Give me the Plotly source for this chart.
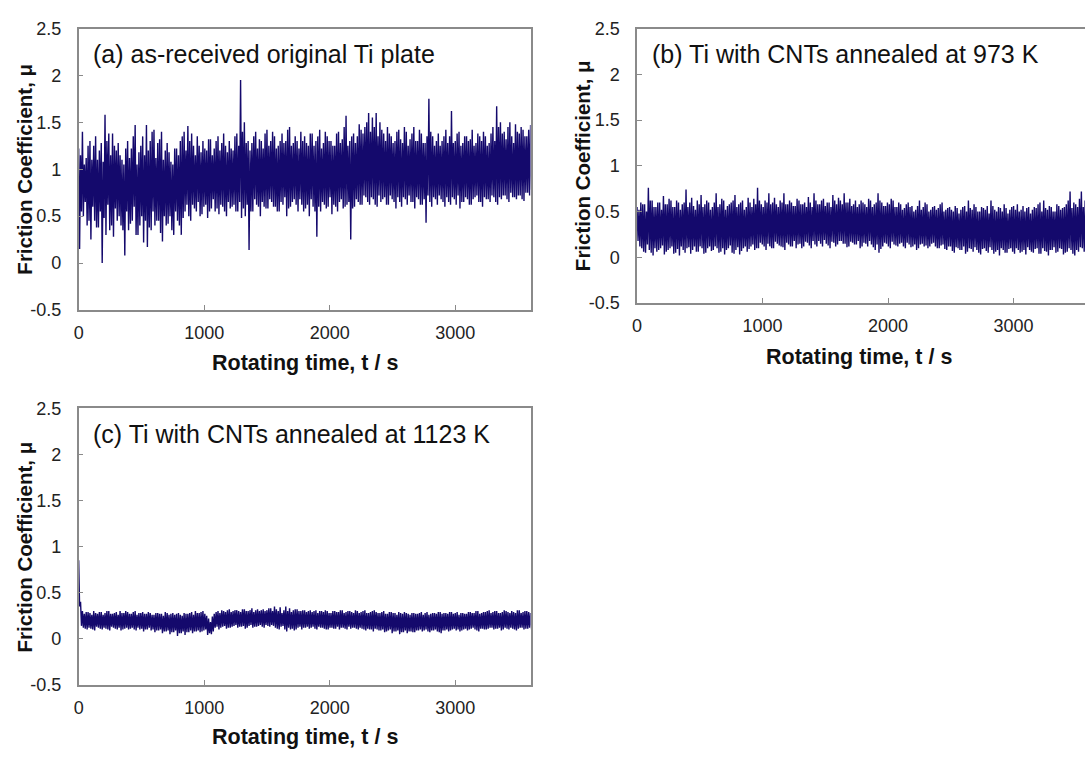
import plotly.graph_objects as go

# ---------------- data ----------------
# Each 30 s window of the record is described by four readings:
# an upper excursion (hi), a lower excursion (lo) and a second,
# smaller upper / lower pair (hi2, lo2) taken later in the window.
time_hi = list(range(0, 3601, 30))
time_lo = [t + 7.5 for t in time_hi]
time_hi2 = [t + 15 for t in time_hi]
time_lo2 = [t + 22.5 for t in time_hi]

# (a) as-received original Ti plate
a_hi = [1.22, 1.40, 1.12, 1.30, 1.25, 1.10, 1.28, 1.58, 1.38, 1.38,
        1.20, 1.15, 1.05, 1.30, 1.22, 1.47, 1.18, 1.35, 1.47, 1.30,
        1.42, 1.28, 1.40, 1.20, 1.18, 1.05, 1.22, 1.30, 1.40, 1.46,
        1.38, 1.15, 1.25, 1.30, 1.20, 1.32, 1.22, 1.35, 1.28, 1.25,
        1.30, 1.20, 1.38, 1.95, 1.50, 1.30, 1.28, 1.40, 1.32, 1.22,
        1.42, 1.30, 1.35, 1.25, 1.38, 1.30, 1.45, 1.28, 1.30, 1.40,
        1.35, 1.25, 1.38, 1.30, 1.42, 1.28, 1.35, 1.30, 1.25, 1.40,
        1.32, 1.57, 1.30, 1.38, 1.35, 1.42, 1.45, 1.60, 1.55, 1.60,
        1.50, 1.38, 1.45, 1.35, 1.30, 1.42, 1.28, 1.40, 1.32, 1.45,
        1.30, 1.38, 1.28, 1.75, 1.35, 1.30, 1.25, 1.35, 1.28, 1.62,
        1.30, 1.40, 1.28, 1.35, 1.32, 1.25, 1.38, 1.30, 1.35, 1.28,
        1.45, 1.67, 1.50, 1.40, 1.45, 1.35, 1.48, 1.38, 1.42, 1.35,
        1.47]
a_lo = [0.15, 0.50, 0.40, 0.25, 0.45, 0.38, 0.00, 0.30, 0.35, 0.28,
        0.45, 0.40, 0.08, 0.35, 0.45, 0.30, 0.40, 0.22, 0.17, 0.35,
        0.40, 0.45, 0.23, 0.40, 0.50, 0.30, 0.45, 0.30, 0.55, 0.50,
        0.62, 0.55, 0.50, 0.60, 0.48, 0.58, 0.55, 0.52, 0.60, 0.50,
        0.58, 0.62, 0.55, 0.48, 0.50, 0.14, 0.55, 0.62, 0.50, 0.60,
        0.58, 0.65, 0.60, 0.55, 0.62, 0.50, 0.60, 0.68, 0.55, 0.62,
        0.58, 0.50, 0.60, 0.28, 0.55, 0.62, 0.60, 0.52, 0.60, 0.65,
        0.58, 0.62, 0.25, 0.60, 0.65, 0.62, 0.70, 0.62, 0.68, 0.60,
        0.65, 0.70, 0.62, 0.68, 0.58, 0.65, 0.70, 0.62, 0.65, 0.58,
        0.68, 0.62, 0.43, 0.65, 0.70, 0.62, 0.68, 0.60, 0.65, 0.70,
        0.62, 0.58, 0.65, 0.68, 0.62, 0.70, 0.65, 0.60, 0.68, 0.65,
        0.70, 0.62, 0.68, 0.72, 0.65, 0.70, 0.68, 0.72, 0.66, 0.75,
        0.78]
a_hi2 = [1.15, 1.05, 1.25, 1.10, 1.35, 1.20, 1.08, 1.30, 1.15, 1.25,
         1.28, 1.10, 1.22, 1.12, 1.35, 1.05, 1.25, 1.15, 1.20, 1.40,
         1.12, 1.32, 1.10, 1.28, 1.08, 1.22, 1.15, 1.35, 1.20, 1.30,
         1.25, 1.35, 1.18, 1.22, 1.32, 1.15, 1.30, 1.20, 1.38, 1.18,
         1.22, 1.35, 1.25, 1.40, 1.28, 1.20, 1.35, 1.22, 1.30, 1.38,
         1.25, 1.40, 1.22, 1.30, 1.28, 1.42, 1.25, 1.35, 1.22, 1.30,
         1.28, 1.38, 1.25, 1.35, 1.22, 1.40, 1.30, 1.25, 1.38, 1.28,
         1.45, 1.25, 1.35, 1.28, 1.48, 1.38, 1.50, 1.40, 1.45, 1.35,
         1.42, 1.30, 1.38, 1.28, 1.40, 1.32, 1.45, 1.25, 1.38, 1.30,
         1.42, 1.28, 1.35, 1.40, 1.25, 1.38, 1.30, 1.42, 1.35, 1.28,
         1.38, 1.25, 1.35, 1.30, 1.42, 1.28, 1.35, 1.40, 1.25, 1.38,
         1.30, 1.45, 1.38, 1.32, 1.50, 1.28, 1.40, 1.45, 1.35, 1.42,
         1.30]
a_lo2 = [0.55, 0.65, 0.45, 0.60, 0.38, 0.55, 0.48, 0.62, 0.40, 0.58,
         0.50, 0.35, 0.55, 0.42, 0.60, 0.30, 0.50, 0.45, 0.38, 0.55,
         0.45, 0.32, 0.50, 0.42, 0.35, 0.55, 0.40, 0.48, 0.62, 0.45,
         0.58, 0.65, 0.52, 0.62, 0.55, 0.68, 0.58, 0.62, 0.55, 0.65,
         0.60, 0.55, 0.65, 0.58, 0.62, 0.55, 0.68, 0.60, 0.65, 0.58,
         0.68, 0.60, 0.55, 0.65, 0.70, 0.58, 0.65, 0.62, 0.68, 0.55,
         0.62, 0.68, 0.55, 0.60, 0.65, 0.58, 0.70, 0.62, 0.55, 0.68,
         0.60, 0.65, 0.58, 0.68, 0.62, 0.72, 0.65, 0.70, 0.62, 0.72,
         0.68, 0.62, 0.72, 0.65, 0.70, 0.60, 0.68, 0.72, 0.65, 0.70,
         0.62, 0.68, 0.72, 0.60, 0.68, 0.72, 0.65, 0.70, 0.62, 0.68,
         0.72, 0.65, 0.70, 0.62, 0.68, 0.72, 0.65, 0.70, 0.68, 0.72,
         0.65, 0.70, 0.72, 0.68, 0.75, 0.70, 0.72, 0.68, 0.75, 0.72,
         0.80]

# (b) Ti with CNTs annealed at 973 K
b_hi = [0.55, 0.60, 0.58, 0.76, 0.62, 0.55, 0.60, 0.67, 0.58, 0.62,
        0.55, 0.60, 0.58, 0.74, 0.60, 0.56, 0.62, 0.68, 0.58, 0.60,
        0.55, 0.70, 0.58, 0.62, 0.56, 0.60, 0.68, 0.58, 0.62, 0.55,
        0.60, 0.64, 0.76, 0.58, 0.62, 0.70, 0.60, 0.58, 0.62, 0.70,
        0.58, 0.60, 0.56, 0.62, 0.58, 0.55, 0.60, 0.70, 0.58, 0.62,
        0.56, 0.60, 0.68, 0.58, 0.62, 0.70, 0.60, 0.56, 0.62, 0.58,
        0.60, 0.55, 0.62, 0.58, 0.70, 0.60, 0.56, 0.58, 0.62, 0.55,
        0.58, 0.54, 0.60, 0.56, 0.52, 0.62, 0.55, 0.58, 0.52, 0.56,
        0.54, 0.60, 0.52, 0.55, 0.50, 0.54, 0.52, 0.56, 0.62, 0.52,
        0.55, 0.50, 0.54, 0.56, 0.62, 0.52, 0.55, 0.50, 0.54, 0.52,
        0.56, 0.58, 0.52, 0.50, 0.55, 0.52, 0.54, 0.60, 0.62, 0.52,
        0.55, 0.50, 0.56, 0.54, 0.58, 0.72, 0.60, 0.55, 0.72, 0.62,
        0.58]
b_lo = [0.18, 0.10, 0.05, 0.08, 0.02, 0.06, 0.10, 0.03, 0.08, 0.12,
        0.05, 0.02, 0.08, 0.10, 0.04, 0.12, 0.06, 0.10, 0.05, 0.12,
        0.08, 0.10, 0.06, 0.03, 0.10, 0.05, 0.08, 0.03, 0.10, 0.06,
        0.12, 0.08, 0.10, 0.14, 0.08, 0.12, 0.10, 0.15, 0.12, 0.08,
        0.14, 0.12, 0.10, 0.15, 0.12, 0.16, 0.10, 0.14, 0.18, 0.12,
        0.15, 0.10, 0.16, 0.14, 0.18, 0.15, 0.12, 0.16, 0.14, 0.10,
        0.16, 0.12, 0.14, 0.08, 0.05, 0.12, 0.15, 0.10, 0.14, 0.12,
        0.16, 0.10, 0.14, 0.12, 0.08, 0.14, 0.12, 0.10, 0.15, 0.12,
        0.10, 0.14, 0.08, 0.12, 0.05, 0.10, 0.08, 0.04, 0.10, 0.06,
        0.08, 0.03, 0.10, 0.05, 0.08, 0.06, 0.02, 0.08, 0.05, 0.10,
        0.04, 0.08, 0.06, 0.03, 0.08, 0.05, 0.10, 0.04, 0.07, 0.02,
        0.08, 0.05, 0.10, 0.03, 0.06, 0.08, 0.02, 0.06, 0.10, 0.05,
        0.12]
b_hi2 = [0.52, 0.58, 0.50, 0.62, 0.55, 0.60, 0.52, 0.58, 0.64, 0.55,
         0.62, 0.52, 0.60, 0.55, 0.65, 0.52, 0.58, 0.55, 0.62, 0.52,
         0.60, 0.55, 0.64, 0.52, 0.58, 0.62, 0.55, 0.60, 0.52, 0.65,
         0.55, 0.58, 0.62, 0.55, 0.60, 0.58, 0.65, 0.55, 0.60, 0.58,
         0.62, 0.56, 0.64, 0.58, 0.60, 0.66, 0.55, 0.62, 0.58, 0.64,
         0.60, 0.55, 0.62, 0.65, 0.58, 0.60, 0.64, 0.58, 0.55, 0.62,
         0.58, 0.64, 0.55, 0.60, 0.62, 0.56, 0.60, 0.64, 0.55, 0.60,
         0.52, 0.58, 0.55, 0.50, 0.56, 0.52, 0.60, 0.50, 0.55, 0.52,
         0.58, 0.50, 0.54, 0.52, 0.56, 0.48, 0.55, 0.50, 0.54, 0.58,
         0.50, 0.55, 0.52, 0.48, 0.56, 0.50, 0.54, 0.58, 0.48, 0.55,
         0.52, 0.50, 0.56, 0.54, 0.48, 0.55, 0.58, 0.50, 0.54, 0.56,
         0.50, 0.58, 0.52, 0.55, 0.62, 0.54, 0.58, 0.64, 0.55, 0.60,
         0.56]
b_lo2 = [0.12, 0.06, 0.14, 0.05, 0.10, 0.08, 0.13, 0.06, 0.10, 0.04,
         0.09, 0.12, 0.05, 0.11, 0.08, 0.06, 0.12, 0.04, 0.10, 0.07,
         0.12, 0.05, 0.10, 0.08, 0.13, 0.04, 0.11, 0.07, 0.12, 0.09,
         0.14, 0.10, 0.16, 0.12, 0.15, 0.10, 0.17, 0.13, 0.11, 0.16,
         0.12, 0.18, 0.14, 0.10, 0.17, 0.13, 0.18, 0.12, 0.15, 0.19,
         0.13, 0.17, 0.12, 0.18, 0.15, 0.11, 0.17, 0.14, 0.18, 0.12,
         0.15, 0.18, 0.11, 0.14, 0.09, 0.16, 0.12, 0.17, 0.13, 0.15,
         0.12, 0.16, 0.11, 0.14, 0.10, 0.15, 0.13, 0.12, 0.16, 0.10,
         0.13, 0.09, 0.12, 0.07, 0.11, 0.08, 0.12, 0.06, 0.09, 0.11,
         0.05, 0.09, 0.07, 0.11, 0.04, 0.08, 0.10, 0.05, 0.09, 0.06,
         0.10, 0.05, 0.08, 0.11, 0.06, 0.09, 0.04, 0.10, 0.06, 0.08,
         0.11, 0.06, 0.09, 0.05, 0.10, 0.04, 0.08, 0.11, 0.06, 0.09,
         0.10]

# (c) Ti with CNTs annealed at 1123 K
c_hi = [0.85, 0.30, 0.29, 0.28, 0.30, 0.27, 0.29, 0.28, 0.30, 0.27,
        0.29, 0.30, 0.28, 0.29, 0.27, 0.30, 0.28, 0.29, 0.27, 0.28,
        0.26, 0.28, 0.27, 0.29, 0.26, 0.28, 0.27, 0.26, 0.28, 0.27,
        0.29, 0.30, 0.28, 0.30, 0.25, 0.18, 0.27, 0.30, 0.31, 0.29,
        0.32, 0.30, 0.31, 0.29, 0.32, 0.30, 0.33, 0.31, 0.30, 0.32,
        0.31, 0.33, 0.35, 0.30, 0.28, 0.35, 0.33, 0.31, 0.32, 0.30,
        0.31, 0.30, 0.29, 0.31, 0.30, 0.29, 0.30, 0.28, 0.30, 0.29,
        0.31, 0.29, 0.30, 0.28, 0.30, 0.29, 0.31, 0.28, 0.30, 0.29,
        0.28, 0.30, 0.27, 0.29, 0.28, 0.29, 0.27, 0.28, 0.26, 0.28,
        0.27, 0.29, 0.28, 0.26, 0.28, 0.27, 0.29, 0.28, 0.27, 0.29,
        0.28, 0.26, 0.28, 0.27, 0.29, 0.28, 0.30, 0.28, 0.29, 0.31,
        0.29, 0.30, 0.28, 0.31, 0.29, 0.30, 0.28, 0.31, 0.29, 0.30,
        0.28]
c_lo = [0.35, 0.12, 0.10, 0.11, 0.09, 0.12, 0.10, 0.11, 0.09, 0.12,
        0.10, 0.09, 0.11, 0.10, 0.12, 0.09, 0.10, 0.08, 0.10, 0.09,
        0.07, 0.09, 0.06, 0.08, 0.05, 0.07, 0.03, 0.06, 0.04, 0.07,
        0.06, 0.08, 0.07, 0.09, 0.04, 0.05, 0.12, 0.10, 0.13, 0.11,
        0.12, 0.14, 0.12, 0.13, 0.11, 0.14, 0.12, 0.13, 0.15, 0.12,
        0.14, 0.15, 0.12, 0.10, 0.14, 0.08, 0.10, 0.09, 0.12, 0.10,
        0.12, 0.11, 0.13, 0.10, 0.12, 0.11, 0.10, 0.12, 0.11, 0.10,
        0.12, 0.10, 0.11, 0.12, 0.10, 0.11, 0.09, 0.10, 0.08, 0.10,
        0.09, 0.07, 0.09, 0.06, 0.08, 0.05, 0.07, 0.06, 0.08, 0.07,
        0.09, 0.08, 0.10, 0.07, 0.09, 0.08, 0.06, 0.09, 0.08, 0.10,
        0.09, 0.08, 0.10, 0.09, 0.11, 0.10, 0.08, 0.11, 0.10, 0.12,
        0.10, 0.11, 0.09, 0.12, 0.10, 0.11, 0.09, 0.12, 0.10, 0.11,
        0.10]
c_hi2 = [0.40, 0.27, 0.29, 0.26, 0.28, 0.29, 0.26, 0.30, 0.27, 0.28,
         0.26, 0.28, 0.30, 0.27, 0.29, 0.26, 0.28, 0.27, 0.29, 0.26,
         0.28, 0.27, 0.25, 0.28, 0.27, 0.26, 0.28, 0.25, 0.27, 0.28,
         0.26, 0.28, 0.29, 0.27, 0.22, 0.24, 0.29, 0.28, 0.30, 0.31,
         0.29, 0.31, 0.30, 0.32, 0.30, 0.31, 0.29, 0.32, 0.31, 0.30,
         0.33, 0.30, 0.32, 0.34, 0.31, 0.30, 0.29, 0.32, 0.30, 0.31,
         0.29, 0.31, 0.30, 0.28, 0.30, 0.31, 0.28, 0.30, 0.29, 0.31,
         0.28, 0.30, 0.29, 0.31, 0.28, 0.30, 0.28, 0.29, 0.31, 0.28,
         0.29, 0.27, 0.29, 0.28, 0.26, 0.28, 0.29, 0.27, 0.28, 0.27,
         0.28, 0.26, 0.29, 0.27, 0.28, 0.29, 0.27, 0.28, 0.29, 0.27,
         0.29, 0.28, 0.27, 0.29, 0.28, 0.30, 0.27, 0.29, 0.30, 0.28,
         0.30, 0.28, 0.29, 0.30, 0.28, 0.29, 0.31, 0.28, 0.30, 0.29,
         0.29]
c_lo2 = [0.14, 0.11, 0.12, 0.10, 0.13, 0.11, 0.12, 0.10, 0.13, 0.11,
         0.12, 0.10, 0.12, 0.11, 0.10, 0.12, 0.11, 0.10, 0.12, 0.10,
         0.09, 0.10, 0.08, 0.09, 0.07, 0.09, 0.06, 0.08, 0.07, 0.09,
         0.08, 0.09, 0.08, 0.10, 0.06, 0.08, 0.13, 0.12, 0.14, 0.12,
         0.13, 0.15, 0.13, 0.14, 0.12, 0.15, 0.13, 0.14, 0.13, 0.15,
         0.13, 0.14, 0.11, 0.13, 0.10, 0.12, 0.11, 0.10, 0.13, 0.12,
         0.13, 0.12, 0.11, 0.13, 0.12, 0.10, 0.12, 0.11, 0.13, 0.12,
         0.11, 0.13, 0.12, 0.11, 0.12, 0.10, 0.11, 0.10, 0.11, 0.09,
         0.10, 0.08, 0.10, 0.08, 0.09, 0.07, 0.09, 0.08, 0.07, 0.09,
         0.10, 0.09, 0.08, 0.09, 0.10, 0.07, 0.09, 0.10, 0.09, 0.11,
         0.10, 0.09, 0.11, 0.10, 0.12, 0.09, 0.11, 0.10, 0.11, 0.12,
         0.11, 0.12, 0.10, 0.11, 0.12, 0.10, 0.11, 0.12, 0.11, 0.12,
         0.11]

panel_labels = ["(a) as-received original Ti plate",
                "(b) Ti with CNTs annealed at 973 K",
                "(c) Ti with CNTs annealed at 1123 K"]
x_title = "Rotating time, t / s"
y_title = "Friction Coefficient, μ"
x_ticks = [0, 1000, 2000, 3000]
x_tick_text = ["0", "1000", "2000", "3000"]
y_ticks = [-0.5, 0, 0.5, 1, 1.5, 2, 2.5]
y_tick_text = ["-0.5", "0", "0.5", "1", "1.5", "2", "2.5"]

# ---------------- figure ----------------
W, H = 1085, 763
LINE = "#14096c"
AXC = "#8a8a8a"
FONT = "Liberation Sans, Arial, sans-serif"


def px_x(p):
    return p / W


def px_y(p):
    return 1 - p / H


def interleave(hi, lo, hi2, lo2):
    xs, ys = [], []
    for k in range(len(hi)):
        xs += [time_hi[k], time_lo[k], time_hi2[k], time_lo2[k]]
        ys += [hi[k], lo[k], hi2[k], lo2[k]]
    return xs, ys


fig = go.Figure()
series = [(a_hi, a_lo, a_hi2, a_lo2),
          (b_hi, b_lo, b_hi2, b_lo2),
          (c_hi, c_lo, c_hi2, c_lo2)]
for i, (hi, lo, hi2, lo2) in enumerate(series):
    n = "" if i == 0 else str(i + 1)
    xs, ys = interleave(hi, lo, hi2, lo2)
    fig.add_trace(go.Scatter(x=xs, y=ys, mode="lines",
                             line=dict(color=LINE, width=1.4),
                             xaxis="x" + n, yaxis="y" + n,
                             showlegend=False, hoverinfo="skip"))

# pixel boxes: (left, right, top, bottom, x range end, mirror y)
boxes = [(74, 528, 19, 308, 3600, True),
         (635, 1085, 19, 301, 3569, False),
         (74, 528, 409, 693, 3600, True)]

layout = dict(width=W, height=H, margin=dict(l=0, r=0, t=0, b=0, pad=0),
              autosize=False,
              paper_bgcolor="white", plot_bgcolor="white",
              font=dict(family=FONT, color="#222222", size=18))
for i, (l, r, t, b, xend, mir) in enumerate(boxes):
    n = "" if i == 0 else str(i + 1)
    layout["xaxis" + n] = dict(
        domain=[px_x(l), px_x(r)], range=[0, xend], anchor="y" + n,
        showline=True, linecolor=AXC, linewidth=1.5, mirror=True,
        ticks="inside", ticklen=5, tickcolor=AXC, tickwidth=1,
        tickvals=x_ticks, ticktext=x_tick_text, showgrid=False,
        zeroline=False, ticklabelstandoff=6,
        tickfont=dict(size=18, family=FONT, color="#222222"))
    layout["yaxis" + n] = dict(
        domain=[px_y(b), px_y(t)], range=[-0.5, 2.5], anchor="x" + n,
        showline=True, linecolor=AXC, linewidth=1.5, mirror=mir,
        ticks="inside", ticklen=5, tickcolor=AXC, tickwidth=1,
        tickvals=y_ticks, ticktext=y_tick_text, showgrid=False,
        zeroline=False, ticklabelstandoff=12,
        tickfont=dict(size=18, family=FONT, color="#222222"))
fig.update_layout(**layout)

# panel labels
label_pos = [(86, 45), (648, 45), (86, 435)]
for (x, y), txt in zip(label_pos, panel_labels):
    fig.add_annotation(text=txt, x=px_x(x), y=px_y(y), xref="paper",
                       yref="paper", xanchor="left", yanchor="middle",
                       showarrow=False,
                       font=dict(size=25, family=FONT, color="#111111"))

# axis titles
xt_pos = [(301, 363), (858, 356), (301, 747)]
for x, y in xt_pos:
    fig.add_annotation(text="<b>" + x_title + "</b>", x=px_x(x), y=px_y(y),
                       xref="paper", yref="paper", xanchor="center",
                       yanchor="middle", showarrow=False,
                       font=dict(size=21.5, family=FONT, color="#111111"))
yt_pos = [(20, 163), (580, 160), (20, 551)]
for x, y in yt_pos:
    fig.add_annotation(text="<b>" + y_title + "</b>", x=px_x(x), y=px_y(y),
                       xref="paper", yref="paper", xanchor="center",
                       yanchor="middle", showarrow=False, textangle=-90,
                       font=dict(size=20.5, family=FONT, color="#111111"))

fig.write_html(
    "out.html",
    config={"responsive": False, "displayModeBar": False},
    post_script=("document.documentElement.style.margin='0';"
                 "document.body.style.margin='0';"
                 "document.body.style.padding='0';"
                 "document.documentElement.style.overflow='hidden';"
                 "document.body.style.overflow='hidden';"))
